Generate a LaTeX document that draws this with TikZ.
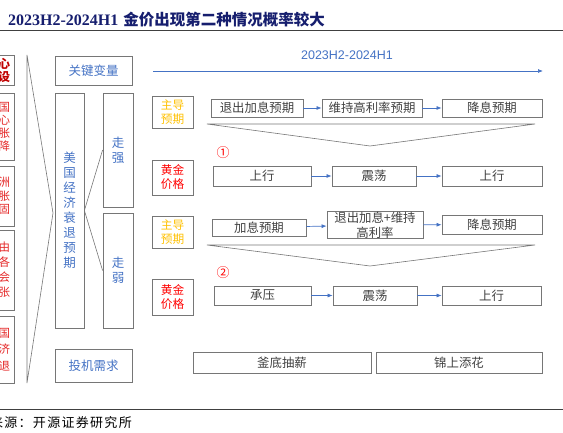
\documentclass[tikz,border=0pt]{standalone}
\usepackage{fontspec}
\setmainfont{Liberation Sans}
\newfontfamily\cjk{Noto Sans CJK SC}
\newfontfamily\titlelat{Liberation Serif}
\usetikzlibrary{arrows.meta}

\definecolor{boxgray}{RGB}{118,118,118}
\definecolor{ink}{RGB}{64,64,64}
\definecolor{keyblue}{RGB}{68,114,196}
\definecolor{leadgold}{RGB}{255,192,0}
\definecolor{goldred}{RGB}{255,0,0}
\definecolor{cutred}{RGB}{228,40,40}
\definecolor{darkred}{RGB}{192,0,0}
\definecolor{navy}{RGB}{22,30,110}

\newcommand{\boxfont}{\cjk\fontsize{12.4}{15}\selectfont}
\newcommand{\sidefont}{\cjk\fontsize{11.7}{14}\selectfont}
\newcommand{\vfont}{\cjk\fontsize{12.5}{15}\selectfont}

\begin{document}
\begin{tikzpicture}[x=1pt,y=-1pt,
		box/.style={draw=boxgray,line width=0.8pt,inner sep=0pt,align=center,
			font=\boxfont,text=ink},
		side/.style={box,font=\sidefont},
		vbox/.style={box,font=\vfont,text=keyblue},
		cut/.style={box,text width=25.5pt,align=right,inner xsep=4.5pt,
			inner ysep=0pt,minimum width=34.5pt,text=cutred},
		rim/.style={draw=boxgray,line width=0.6pt},
		rule/.style={draw=black!75,line width=1pt},
		flow/.style={draw=keyblue,line width=0.7pt,-{Latex[length=5pt,width=4pt]}}]

	\useasboundingbox (0,0) rectangle (563,433);

	%%%%%%%%%%%%%%%%  title and rules  %%%%%%%%%%%%%%%%
	\node[anchor=base west,inner sep=0pt,text=navy] (title) at (8,26)
		{{\titlelat\bfseries\fontsize{16}{18}\selectfont 2023H2-2024H1}\hspace{5pt}%
		{\cjk\bfseries\fontsize{15.5}{18}\selectfont 金价出现第二种情况概率较大}};
	\draw[rule] (0,31) -- (563,31);
	\draw[rule] (0,409) -- (563,409);
	\node[anchor=base east,inner sep=0pt] (src) at (132,427)
		{\cjk\addfontfeature{LetterSpace=10}\fontsize{13}{15}\selectfont 来源：开源证券研究所};

	%%%%%%%%%%%%%%%%  left column, cut off  %%%%%%%%%%%%%%%%
	\node[cut,minimum height=30pt,text=darkred,
		font=\cjk\bfseries\fontsize{12}{13}\selectfont] (c1) at (-2.75,70) {心\\设};
	\node[cut,minimum height=67pt,font=\cjk\fontsize{11.5}{13}\selectfont]
		(c2) at (-2.75,126.5) {国\\心\\胀\\降};
	\node[cut,minimum height=60pt,font=\cjk\fontsize{11.5}{13.5}\selectfont]
		(c3) at (-2.75,196) {洲\\胀\\固};
	\node[cut,minimum height=80pt,font=\cjk\fontsize{11.5}{15}\selectfont]
		(c4) at (-2.75,270) {由\\各\\会\\张};
	\node[cut,minimum height=67pt,font=\cjk\fontsize{11.5}{16.5}\selectfont]
		(c5) at (-2.75,349.5) {国\\济\\退};
	% bracket
	\draw[rim] (27,55) -- (27,383) -- (53,213) -- cycle;

	%%%%%%%%%%%%%%%%  key variables  %%%%%%%%%%%%%%%%
	\node[vbox,minimum width=77pt,minimum height=29pt] (keyvar) at (93.5,70.5) {关键变量};
	\node[vbox,minimum width=29pt,minimum height=235pt] (recess) at (69.5,210.5)
		{美\\国\\经\\济\\衰\\退\\预\\期};
	\node[vbox,minimum width=30pt,minimum height=114pt] (strong) at (118,150) {走\\强};
	\node[vbox,minimum width=30pt,minimum height=115pt] (weak) at (118,270.5) {走\\弱};
	\node[vbox,minimum width=77pt,minimum height=33pt] (spec) at (93.5,365.5) {投机需求};
	\draw[rim] (strong.west) -- (recess.east) -- (weak.west);

	%%%%%%%%%%%%%%%%  time line  %%%%%%%%%%%%%%%%
	\coordinate (t0) at (153,71);
	\coordinate (t1) at (543,71);
	\draw[flow] (t0) -- (t1);
	\node[text=keyblue,font=\fontsize{12.5}{14}\selectfont] (period) at (347,55) {2023H2-2024H1};

	%%%%%%%%%%%%%%%%  case 1  %%%%%%%%%%%%%%%%
	\node[side,minimum width=41pt,minimum height=32pt,text=leadgold] (lead1) at (172.5,112) {主导\\预期};
	\node[box,minimum width=92pt,minimum height=18pt] (e11) at (257,108) {退出加息预期};
	\node[box,minimum width=100pt,minimum height=18pt] (e12) at (372,108) {维持高利率预期};
	\node[box,minimum width=100pt,minimum height=18pt] (e13) at (492,108) {降息预期};
	\draw[flow] (e11) -- (e12);
	\draw[flow] (e12) -- (e13);
	\draw[rim] (207,124) -- (535,124) -- (370,146) -- cycle;
	\node[text=goldred,font=\cjk\fontsize{13}{14}\selectfont] (n1) at (223,153) {①};
	\node[side,minimum width=41pt,minimum height=35pt,text=goldred] (gold1) at (172.5,177.5) {黄金\\价格};
	\node[box,minimum width=98pt,minimum height=20pt] (g11) at (262,176) {上行};
	\node[box,minimum width=84pt,minimum height=20pt] (g12) at (374,176) {震荡};
	\node[box,minimum width=100pt,minimum height=20pt] (g13) at (492,176) {上行};
	\draw[flow] (g11) -- (g12);
	\draw[flow] (g12) -- (g13);

	%%%%%%%%%%%%%%%%  case 2  %%%%%%%%%%%%%%%%
	\node[side,minimum width=41pt,minimum height=32pt,text=leadgold] (lead2) at (172.5,232) {主导\\预期};
	\node[box,minimum width=94pt,minimum height=17pt] (e21) at (259,227.5) {加息预期};
	\node[box,minimum width=96pt,minimum height=26pt] (e22) at (375,225) {退出加息+维持\\高利率};
	\node[box,minimum width=100pt,minimum height=19pt] (e23) at (492,224.5) {降息预期};
	\draw[flow] (e21) -- (e22);
	\draw[flow] (e22) -- (e23);
	\draw[rim] (207,245) -- (535,245) -- (370,266) -- cycle;
	\node[text=goldred,font=\cjk\fontsize{13}{14}\selectfont] (n2) at (223,273) {②};
	\node[side,minimum width=41pt,minimum height=36pt,text=goldred] (gold2) at (172.5,297) {黄金\\价格};
	\node[box,minimum width=97pt,minimum height=19pt] (g21) at (262.5,295.5) {承压};
	\node[box,minimum width=84pt,minimum height=19pt] (g22) at (375,295.5) {震荡};
	\node[box,minimum width=99pt,minimum height=19pt] (g23) at (491.5,295.5) {上行};
	\draw[flow] (g21) -- (g22);
	\draw[flow] (g22) -- (g23);

	%%%%%%%%%%%%%%%%  speculative demand  %%%%%%%%%%%%%%%%
	\node[box,minimum width=178pt,minimum height=21pt] (b1) at (282,362.5) {釜底抽薪};
	\node[box,minimum width=166pt,minimum height=21pt] (b2) at (459,362.5) {锦上添花};
\end{tikzpicture}
\end{document}
